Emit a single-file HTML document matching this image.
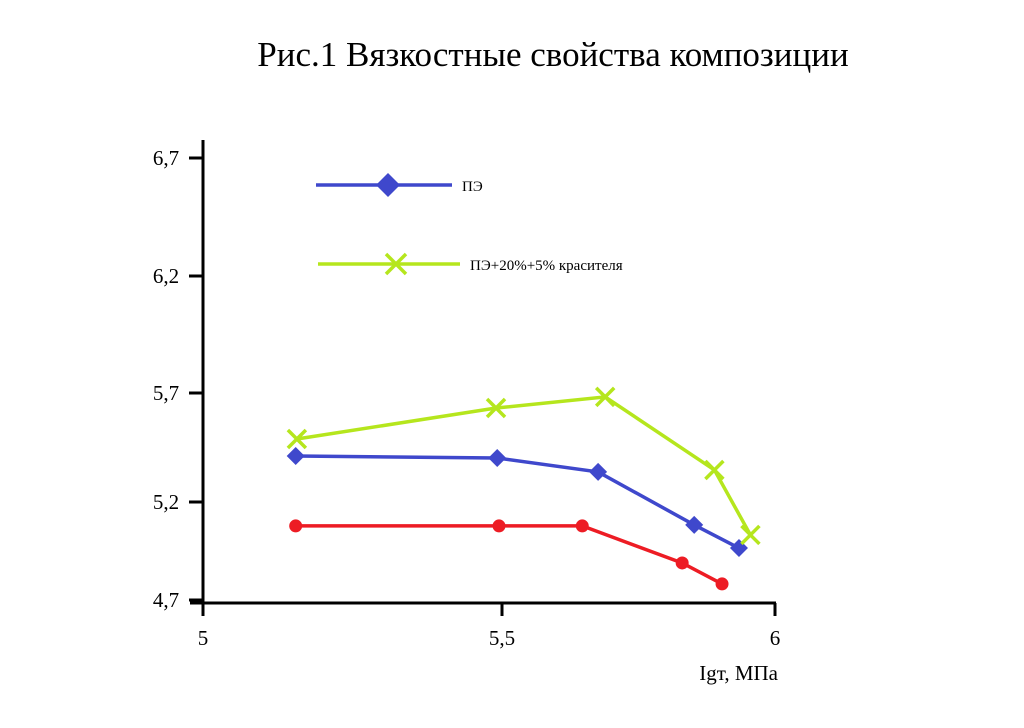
<!DOCTYPE html>
<html><head><meta charset="utf-8"><style>
body{margin:0;background:#fff;width:1024px;height:723px;overflow:hidden}
svg text{font-family:"Liberation Serif",serif}
</style></head><body>
<svg width="1024" height="723">
<text x="553" y="66" font-size="35" text-anchor="middle">Рис.1 Вязкостные свойства композиции</text>
<g id="axes"></g>
<g id="series"></g>
<g>
<line x1="316" y1="185" x2="452" y2="185" stroke="#3f48cc" stroke-width="3.5"/>
<polygon points="388,173 400,185 388,197 376,185" fill="#3f48cc"/>
<text x="462" y="191" font-size="15">ПЭ</text>
<line x1="318" y1="264" x2="460" y2="264" stroke="#b5e61d" stroke-width="3.5"/>
<path d="M386,254 L406,274 M406,254 L386,274" stroke="#b5e61d" stroke-width="3.5"/>
<text x="470" y="270" font-size="15">ПЭ+20%+5% красителя</text>
</g>
</svg>
<script>
const xTicks=[5,5.5,6];
const xTickLabels=["5","5,5","6"];
const yTicks=[4.7,5.2,5.7,6.2,6.7];
const yTickLabels=["4,7","5,2","5,7","6,2","6,7"];
const peX=[5.155,5.492,5.676,5.852,5.934];
const peY=[5.411,5.402,5.338,5.083,4.965];
const dyeX=[5.157,5.490,5.689,5.889,5.955];
const dyeY=[5.489,5.631,5.682,5.347,5.032];
const redX=[5.155,5.495,5.647,5.830,5.903];
const redY=[5.078,5.078,5.078,4.889,4.782];

const xPx=[203,502,775], yPx=[600,502,393,276,158];
function interp(v,t,p){let i=0;while(i<t.length-2&&v>t[i+1])i++;return p[i]+(v-t[i])/(t[i+1]-t[i])*(p[i+1]-p[i]);}
const sx=v=>interp(v,xTicks,xPx), sy=v=>interp(v,yTicks,yPx);
const NS="http://www.w3.org/2000/svg";
function mk(tag,attrs,parent,txt){const e=document.createElementNS(NS,tag);for(const k in attrs)e.setAttribute(k,attrs[k]);if(txt!==undefined)e.textContent=txt;parent.appendChild(e);return e;}
const ax=document.getElementById('axes');
let e=mk('line',{x1:203,y1:140,x2:203,y2:616,stroke:'#000','stroke-width':3},ax);


e=mk('line',{x1:190,y1:603,x2:776,y2:603,stroke:'#000','stroke-width':3},ax);


yTicks.forEach((t,i)=>{const y=sy(t);
 mk('line',{x1:189,y1:y,x2:203,y2:y,stroke:'#000','stroke-width':3},ax);
 const l=mk('text',{x:166,y:y+7,'font-size':21,'text-anchor':'middle'},ax,yTickLabels[i]);
 
 });
xTicks.forEach((t,i)=>{const x=sx(t);
 mk('line',{x1:x,y1:603,x2:x,y2:616,stroke:'#000','stroke-width':3},ax);
 const l=mk('text',{x:x,y:645,'font-size':21,'text-anchor':'middle'},ax,xTickLabels[i]);
 
 });
e=mk('text',{x:778,y:680,'font-size':21,'text-anchor':'end'},ax,'Igт, МПа');



const sg=document.getElementById('series');
function series(X,Y,color,marker,name){
 const pts=X.map((x,i)=>sx(x)+','+sy(Y[i])).join(' ');
 const l=mk('polyline',{points:pts,fill:'none',stroke:color,'stroke-width':3.5},sg);
 
 
 X.forEach((x,i)=>{const cx=sx(x),cy=sy(Y[i]);let m;
  if(marker==='d')m=mk('polygon',{points:`${cx},${cy-9} ${cx+9},${cy} ${cx},${cy+9} ${cx-9},${cy}`,fill:color},sg);
  else if(marker==='x')m=mk('path',{d:`M${cx-9},${cy-9}L${cx+9},${cy+9}M${cx+9},${cy-9}L${cx-9},${cy+9}`,stroke:color,'stroke-width':3.5},sg);
  else m=mk('circle',{cx:cx,cy:cy,r:6.5,fill:color},sg);
  
  });
}
series(redX,redY,'#ed1c24','o','red-series');
series(peX,peY,'#3f48cc','d','pe-series');
series(dyeX,dyeY,'#b5e61d','x','pe-dye-series');
</script>
</body></html>
